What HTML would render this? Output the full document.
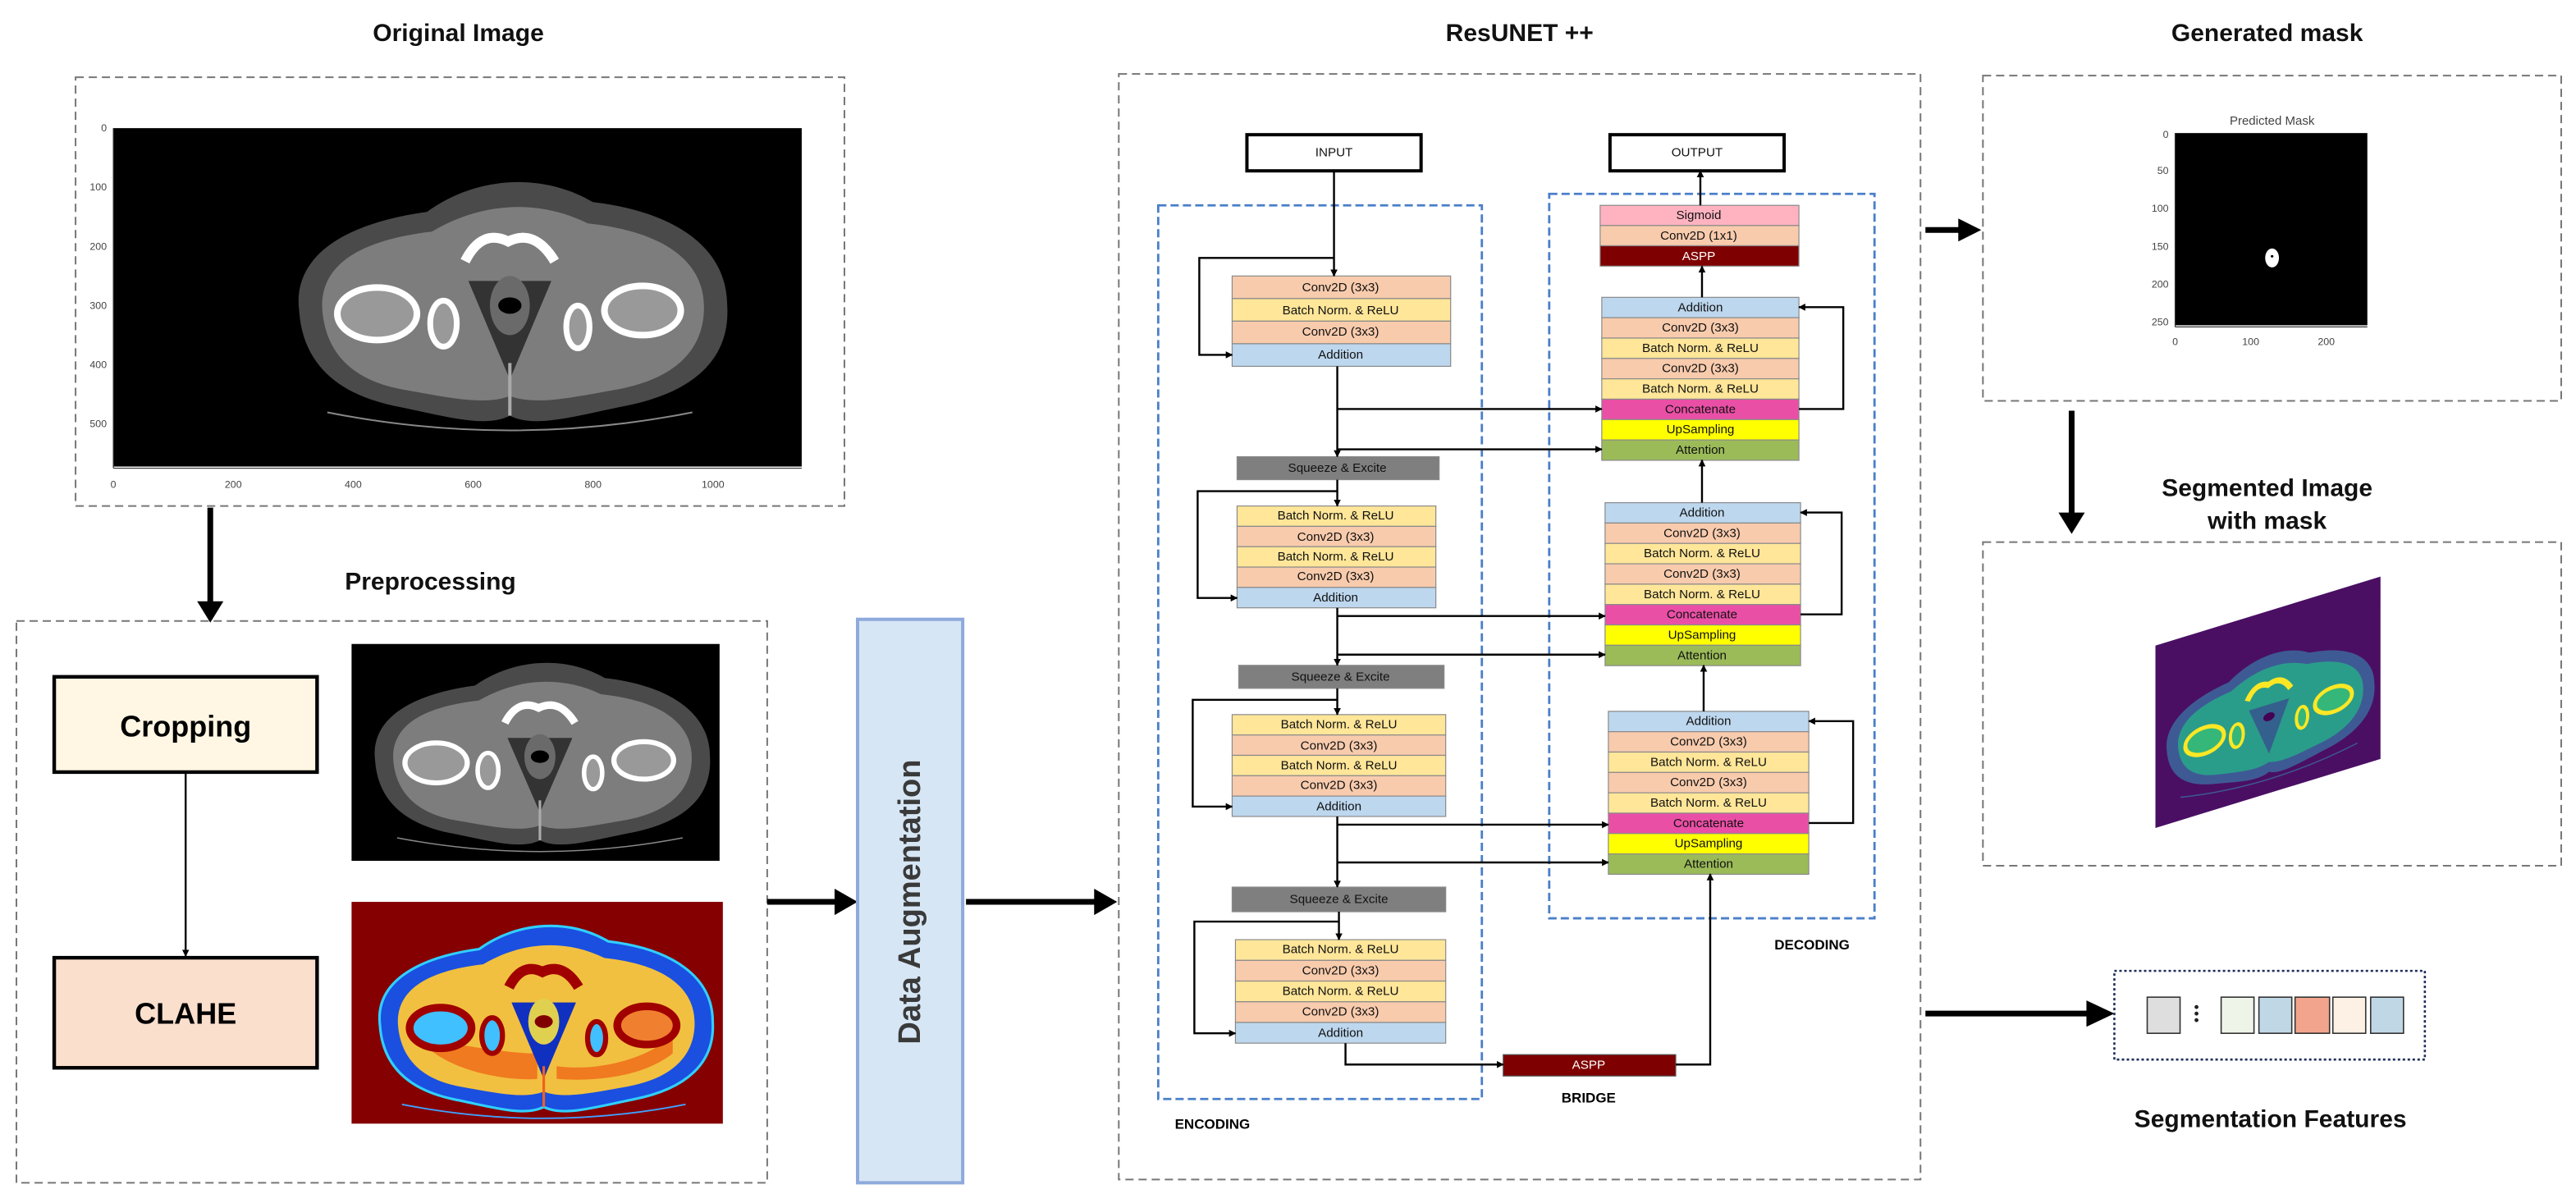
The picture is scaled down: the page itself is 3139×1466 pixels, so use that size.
<!DOCTYPE html>
<html><head><meta charset="utf-8"><style>
html,body{margin:0;padding:0;background:#fff;}
svg{display:block;}
text{font-family:"Liberation Sans",sans-serif;}
.t{font-size:7.6px;text-anchor:middle;dominant-baseline:central;fill:#111;}
.ax{font-size:6.2px;fill:#444;dominant-baseline:central;}
.ttl{font-size:15px;font-weight:bold;text-anchor:middle;fill:#111;}
.c{stroke:#000;stroke-width:1.2;fill:none;}
.th{stroke:#000;stroke-width:3.5;fill:none;}
.r{stroke:#8a8a8a;stroke-width:0.6;}
</style></head><body>
<svg width="3139" height="1466" viewBox="0 0 1568 732.3" xmlns="http://www.w3.org/2000/svg">
<defs>
<marker id="b" viewBox="0 0 10 10" refX="9" refY="5" markerWidth="3.6" markerHeight="3.6" orient="auto"><path d="M0,0L10,5L0,10z" fill="#000"/></marker>
</defs>
<rect width="1568" height="732.3" fill="#fff"/>

<text class="ttl" x="279" y="25">Original Image</text>
<text class="ttl" x="262" y="359">Preprocessing</text>
<text class="ttl" x="925" y="25">ResUNET ++</text>
<text class="ttl" x="1380" y="25">Generated mask</text>
<text class="ttl" x="1380" y="302">Segmented Image</text>
<text class="ttl" x="1380" y="322">with mask</text>
<text class="ttl" x="1382" y="686">Segmentation Features</text>

<rect x="46" y="47" width="468" height="261" fill="none" stroke="#777" stroke-width="1" stroke-dasharray="5,3"/>
<rect x="69" y="78" width="419" height="206" fill="#000"/>
<line x1="69" y1="78" x2="69" y2="285" stroke="#333" stroke-width="0.6"/>
<line x1="69" y1="285" x2="488" y2="285" stroke="#333" stroke-width="0.6"/>
<g class="ax" text-anchor="end">
<text x="65" y="78">0</text><text x="65" y="114">100</text><text x="65" y="150">200</text><text x="65" y="186">300</text><text x="65" y="222">400</text><text x="65" y="258">500</text>
</g>
<g class="ax" text-anchor="middle">
<text x="69" y="295">0</text><text x="142" y="295">200</text><text x="215" y="295">400</text><text x="288" y="295">600</text><text x="361" y="295">800</text><text x="434" y="295">1000</text>
</g>
<g transform="translate(174,101) scale(1.01,1.0)">
<path d="M8,88 C4,55 35,35 85,28 C115,6 155,4 185,22 C235,28 266,50 266,85 C268,118 245,138 205,146 C175,152 150,160 135,152 C120,160 95,152 65,146 C28,138 10,118 8,88Z" fill="#4a4a4a"/>
<path d="M22,88 C20,60 45,45 88,40 C118,22 152,20 182,35 C228,40 252,58 252,86 C252,114 232,130 200,136 C172,141 150,146 135,140 C120,146 98,141 70,136 C38,130 24,112 22,88Z" fill="#7d7d7d"/>
<path d="M110,70 L135,130 L160,70 Z" fill="#333"/>
<ellipse cx="55" cy="90" rx="24" ry="16" fill="#999" stroke="#fff" stroke-width="4"/>
<ellipse cx="95" cy="96" rx="8" ry="14" fill="#999" stroke="#fff" stroke-width="3.5"/>
<ellipse cx="215" cy="88" rx="23" ry="15" fill="#999" stroke="#fff" stroke-width="4"/>
<ellipse cx="176" cy="98" rx="7" ry="13" fill="#999" stroke="#fff" stroke-width="3.5"/>
<path d="M108,58 Q118,38 134,46 Q150,38 162,58" fill="none" stroke="#fff" stroke-width="6"/>
<ellipse cx="135" cy="85" rx="12" ry="18" fill="#6a6a6a"/>
<ellipse cx="135" cy="85" rx="7" ry="5" fill="#000"/>
<line x1="135" y1="120" x2="135" y2="152" stroke="#aaa" stroke-width="2"/>
<path d="M25,150 Q135,172 245,150" fill="none" stroke="#888" stroke-width="1"/>
</g>

<line class="th" x1="128" y1="309" x2="128" y2="368"/>
<path d="M120,366 L136,366 L128,379Z" fill="#000"/>

<rect x="10" y="378" width="457" height="342" fill="none" stroke="#777" stroke-width="1" stroke-dasharray="5,3"/>
<rect x="33" y="412" width="160" height="58" fill="#fff6e3" stroke="#000" stroke-width="2.2"/>
<text x="113" y="442" font-size="18" font-weight="bold" text-anchor="middle" dominant-baseline="central">Cropping</text>
<line class="c" x1="113" y1="470" x2="113" y2="582" marker-end="url(#b)"/>
<rect x="33" y="583" width="160" height="67" fill="#fbdfcd" stroke="#000" stroke-width="2.2"/>
<text x="113" y="617" font-size="18" font-weight="bold" text-anchor="middle" dominant-baseline="central">CLAHE</text>

<rect x="214" y="392" width="224" height="132" fill="#000"/>
<g transform="translate(222,396) scale(0.79,0.76)">
<path d="M8,88 C4,55 35,35 85,28 C115,6 155,4 185,22 C235,28 266,50 266,85 C268,118 245,138 205,146 C175,152 150,160 135,152 C120,160 95,152 65,146 C28,138 10,118 8,88Z" fill="#4a4a4a"/>
<path d="M22,88 C20,60 45,45 88,40 C118,22 152,20 182,35 C228,40 252,58 252,86 C252,114 232,130 200,136 C172,141 150,146 135,140 C120,146 98,141 70,136 C38,130 24,112 22,88Z" fill="#7d7d7d"/>
<path d="M110,70 L135,130 L160,70 Z" fill="#333"/>
<ellipse cx="55" cy="90" rx="24" ry="16" fill="#999" stroke="#fff" stroke-width="4"/>
<ellipse cx="95" cy="96" rx="8" ry="14" fill="#999" stroke="#fff" stroke-width="3.5"/>
<ellipse cx="215" cy="88" rx="23" ry="15" fill="#999" stroke="#fff" stroke-width="4"/>
<ellipse cx="176" cy="98" rx="7" ry="13" fill="#999" stroke="#fff" stroke-width="3.5"/>
<path d="M108,58 Q118,38 134,46 Q150,38 162,58" fill="none" stroke="#fff" stroke-width="6"/>
<ellipse cx="135" cy="85" rx="12" ry="18" fill="#6a6a6a"/>
<ellipse cx="135" cy="85" rx="7" ry="5" fill="#000"/>
<line x1="135" y1="120" x2="135" y2="152" stroke="#aaa" stroke-width="2"/>
<path d="M25,150 Q135,172 245,150" fill="none" stroke="#888" stroke-width="1"/>
</g>

<rect x="214" y="549" width="226" height="135" fill="#850000"/>
<g transform="translate(225,556) scale(0.785,0.775)">
<path d="M8,88 C4,55 35,35 85,28 C115,6 155,4 185,22 C235,28 266,50 266,85 C268,118 245,138 205,146 C175,152 150,160 135,152 C120,160 95,152 65,146 C28,138 10,118 8,88Z" fill="#1a4fe0" stroke="#30d0ff" stroke-width="2"/>
<path d="M22,88 C20,60 45,45 88,40 C118,22 152,20 182,35 C228,40 252,58 252,86 C252,114 232,130 200,136 C172,141 150,146 135,140 C120,146 98,141 70,136 C38,130 24,112 22,88Z" fill="#f2c040"/>
<path d="M40,100 C60,125 110,132 130,130 L130,110 C100,110 60,100 40,100Z" fill="#f07a20"/>
<path d="M145,120 C180,125 220,112 235,95 L235,110 C210,130 170,132 145,130Z" fill="#f07a20"/>
<path d="M110,70 L135,130 L160,70 Z" fill="#1030c0"/>
<ellipse cx="55" cy="90" rx="24" ry="16" fill="#40c0ff" stroke="#a00000" stroke-width="6"/>
<ellipse cx="95" cy="96" rx="8" ry="14" fill="#40c0ff" stroke="#a00000" stroke-width="4"/>
<ellipse cx="215" cy="88" rx="23" ry="15" fill="#f08030" stroke="#a00000" stroke-width="6"/>
<ellipse cx="176" cy="98" rx="7" ry="13" fill="#40c0ff" stroke="#a00000" stroke-width="4"/>
<path d="M108,58 Q118,38 134,46 Q150,38 162,58" fill="none" stroke="#a00000" stroke-width="8"/>
<ellipse cx="135" cy="85" rx="12" ry="18" fill="#e0d050"/>
<ellipse cx="135" cy="85" rx="7" ry="5" fill="#800000"/>
<line x1="135" y1="120" x2="135" y2="152" stroke="#f06020" stroke-width="2"/>
<path d="M25,150 Q135,172 245,150" fill="none" stroke="#40a0ff" stroke-width="1.2"/>
</g>

<line class="th" x1="467" y1="549" x2="510" y2="549"/>
<path d="M508,541 L522,549 L508,557Z" fill="#000"/>
<rect x="522" y="377" width="64" height="343" fill="#d7e6f5" stroke="#8eaadb" stroke-width="2"/>
<text x="554" y="549" font-size="19" font-weight="bold" fill="#3a3a3a" text-anchor="middle" dominant-baseline="central" transform="rotate(-90 554 549)">Data Augmentation</text>
<line class="th" x1="588" y1="549" x2="668" y2="549"/>
<path d="M666,541 L680,549 L666,557Z" fill="#000"/>

<rect x="681" y="45" width="488" height="673" fill="none" stroke="#777" stroke-width="1" stroke-dasharray="5,3"/>
<rect x="705" y="125" width="197" height="544" fill="none" stroke="#4a7fc9" stroke-width="1.4" stroke-dasharray="5,2.5"/>
<rect x="943" y="118" width="198" height="441" fill="none" stroke="#4a7fc9" stroke-width="1.4" stroke-dasharray="5,2.5"/>

<rect x="759" y="82" width="106" height="22" fill="#fff" stroke="#000" stroke-width="2"/>
<text class="t" x="812" y="93">INPUT</text>
<rect x="980" y="82" width="106" height="22" fill="#fff" stroke="#000" stroke-width="2"/>
<text class="t" x="1033" y="93">OUTPUT</text>

<g>
<rect class="r" x="750" y="168" width="133" height="13.75" fill="#f8cbad"/><text class="t" x="816" y="175">Conv2D (3x3)</text>
<rect class="r" x="750" y="181.75" width="133" height="13.75" fill="#ffe699"/><text class="t" x="816" y="189">Batch Norm. &amp;  ReLU</text>
<rect class="r" x="750" y="195.5" width="133" height="13.75" fill="#f8cbad"/><text class="t" x="816" y="202">Conv2D (3x3)</text>
<rect class="r" x="750" y="209.25" width="133" height="13.75" fill="#bdd7ee"/><text class="t" x="816" y="216">Addition</text>
</g>
<rect class="r" x="753" y="278" width="123" height="14" fill="#7f7f7f"/><text class="t" x="814" y="285">Squeeze &amp; Excite</text>
<g>
<rect class="r" x="753" y="308" width="121" height="12.4" fill="#ffe699"/><text class="t" x="813" y="314">Batch Norm. &amp;  ReLU</text>
<rect class="r" x="753" y="320.4" width="121" height="12.4" fill="#f8cbad"/><text class="t" x="813" y="327">Conv2D (3x3)</text>
<rect class="r" x="753" y="332.8" width="121" height="12.4" fill="#ffe699"/><text class="t" x="813" y="339">Batch Norm. &amp;  ReLU</text>
<rect class="r" x="753" y="345.2" width="121" height="12.4" fill="#f8cbad"/><text class="t" x="813" y="351">Conv2D (3x3)</text>
<rect class="r" x="753" y="357.6" width="121" height="12.4" fill="#bdd7ee"/><text class="t" x="813" y="364">Addition</text>
</g>
<rect class="r" x="754" y="405" width="125" height="14" fill="#7f7f7f"/><text class="t" x="816" y="412">Squeeze &amp; Excite</text>
<g>
<rect class="r" x="750" y="435" width="130" height="12.4" fill="#ffe699"/><text class="t" x="815" y="441">Batch Norm. &amp;  ReLU</text>
<rect class="r" x="750" y="447.4" width="130" height="12.4" fill="#f8cbad"/><text class="t" x="815" y="454">Conv2D (3x3)</text>
<rect class="r" x="750" y="459.8" width="130" height="12.4" fill="#ffe699"/><text class="t" x="815" y="466">Batch Norm. &amp;  ReLU</text>
<rect class="r" x="750" y="472.2" width="130" height="12.4" fill="#f8cbad"/><text class="t" x="815" y="478">Conv2D (3x3)</text>
<rect class="r" x="750" y="484.6" width="130" height="12.4" fill="#bdd7ee"/><text class="t" x="815" y="491">Addition</text>
</g>
<rect class="r" x="750" y="540" width="130" height="15" fill="#7f7f7f"/><text class="t" x="815" y="547.5">Squeeze &amp; Excite</text>
<g>
<rect class="r" x="752" y="572" width="128" height="12.6" fill="#ffe699"/><text class="t" x="816" y="578">Batch Norm. &amp;  ReLU</text>
<rect class="r" x="752" y="584.6" width="128" height="12.6" fill="#f8cbad"/><text class="t" x="816" y="591">Conv2D (3x3)</text>
<rect class="r" x="752" y="597.2" width="128" height="12.6" fill="#ffe699"/><text class="t" x="816" y="603.5">Batch Norm. &amp;  ReLU</text>
<rect class="r" x="752" y="609.8" width="128" height="12.6" fill="#f8cbad"/><text class="t" x="816" y="616">Conv2D (3x3)</text>
<rect class="r" x="752" y="622.4" width="128" height="12.6" fill="#bdd7ee"/><text class="t" x="816" y="629">Addition</text>
</g>
<rect x="915" y="642" width="105" height="13" fill="#7f0000" stroke="#555" stroke-width="0.6"/>
<text class="t" x="967" y="648.5" style="fill:#fff">ASPP</text>
<text x="967" y="671" font-size="8.5" font-weight="bold" text-anchor="middle">BRIDGE</text>
<text x="738" y="687" font-size="8.5" font-weight="bold" text-anchor="middle">ENCODING</text>
<text x="1103" y="578" font-size="8.5" font-weight="bold" text-anchor="middle">DECODING</text>

<rect class="r" x="974" y="125" width="121" height="12.3" fill="#ffb3c1"/><text class="t" x="1034" y="131">Sigmoid</text>
<rect class="r" x="974" y="137.3" width="121" height="12.3" fill="#f8cbad"/><text class="t" x="1034" y="143.5">Conv2D (1x1)</text>
<rect class="r" x="974" y="149.6" width="121" height="12.4" fill="#7f0000"/><text class="t" x="1034" y="156" style="fill:#fff">ASPP</text>

<g>
<rect class="r" x="975" y="181" width="120" height="12.4" fill="#bdd7ee"/><text class="t" x="1035" y="187.2">Addition</text>
<rect class="r" x="975" y="193.4" width="120" height="12.4" fill="#f8cbad"/><text class="t" x="1035" y="199.6">Conv2D (3x3)</text>
<rect class="r" x="975" y="205.8" width="120" height="12.4" fill="#ffe699"/><text class="t" x="1035" y="212">Batch Norm. &amp; ReLU</text>
<rect class="r" x="975" y="218.2" width="120" height="12.4" fill="#f8cbad"/><text class="t" x="1035" y="224.4">Conv2D (3x3)</text>
<rect class="r" x="975" y="230.6" width="120" height="12.4" fill="#ffe699"/><text class="t" x="1035" y="236.8">Batch Norm. &amp; ReLU</text>
<rect class="r" x="975" y="243" width="120" height="12.4" fill="#ea4fa6"/><text class="t" x="1035" y="249.2">Concatenate</text>
<rect class="r" x="975" y="255.4" width="120" height="12.4" fill="#ffff00"/><text class="t" x="1035" y="261.6">UpSampling</text>
<rect class="r" x="975" y="267.8" width="120" height="12.4" fill="#9bbb59"/><text class="t" x="1035" y="274">Attention</text>
</g>
<g>
<rect class="r" x="977" y="306" width="119" height="12.4" fill="#bdd7ee"/><text class="t" x="1036" y="312.2">Addition</text>
<rect class="r" x="977" y="318.4" width="119" height="12.4" fill="#f8cbad"/><text class="t" x="1036" y="324.6">Conv2D (3x3)</text>
<rect class="r" x="977" y="330.8" width="119" height="12.4" fill="#ffe699"/><text class="t" x="1036" y="337">Batch Norm. &amp; ReLU</text>
<rect class="r" x="977" y="343.2" width="119" height="12.4" fill="#f8cbad"/><text class="t" x="1036" y="349.4">Conv2D (3x3)</text>
<rect class="r" x="977" y="355.6" width="119" height="12.4" fill="#ffe699"/><text class="t" x="1036" y="361.8">Batch Norm. &amp; ReLU</text>
<rect class="r" x="977" y="368" width="119" height="12.4" fill="#ea4fa6"/><text class="t" x="1036" y="374.2">Concatenate</text>
<rect class="r" x="977" y="380.4" width="119" height="12.4" fill="#ffff00"/><text class="t" x="1036" y="386.6">UpSampling</text>
<rect class="r" x="977" y="392.8" width="119" height="12.4" fill="#9bbb59"/><text class="t" x="1036" y="399">Attention</text>
</g>
<g>
<rect class="r" x="979" y="433" width="122" height="12.4" fill="#bdd7ee"/><text class="t" x="1040" y="439.2">Addition</text>
<rect class="r" x="979" y="445.4" width="122" height="12.4" fill="#f8cbad"/><text class="t" x="1040" y="451.6">Conv2D (3x3)</text>
<rect class="r" x="979" y="457.8" width="122" height="12.4" fill="#ffe699"/><text class="t" x="1040" y="464">Batch Norm. &amp; ReLU</text>
<rect class="r" x="979" y="470.2" width="122" height="12.4" fill="#f8cbad"/><text class="t" x="1040" y="476.4">Conv2D (3x3)</text>
<rect class="r" x="979" y="482.6" width="122" height="12.4" fill="#ffe699"/><text class="t" x="1040" y="488.8">Batch Norm. &amp; ReLU</text>
<rect class="r" x="979" y="495" width="122" height="12.4" fill="#ea4fa6"/><text class="t" x="1040" y="501.2">Concatenate</text>
<rect class="r" x="979" y="507.4" width="122" height="12.4" fill="#ffff00"/><text class="t" x="1040" y="513.6">UpSampling</text>
<rect class="r" x="979" y="519.8" width="122" height="12.4" fill="#9bbb59"/><text class="t" x="1040" y="526">Attention</text>
</g>

<g>
<line class="c" x1="812" y1="104" x2="812" y2="168" marker-end="url(#b)"/>
<polyline class="c" points="812,157 730,157 730,216 750,216" marker-end="url(#b)"/>
<line class="c" x1="814" y1="223" x2="814" y2="278" marker-end="url(#b)"/>
<line class="c" x1="814" y1="249" x2="975" y2="249" marker-end="url(#b)"/>
<line class="c" x1="814" y1="273.5" x2="975" y2="273.5" marker-end="url(#b)"/>
<line class="c" x1="814" y1="292" x2="814" y2="308" marker-end="url(#b)"/>
<polyline class="c" points="814,299 729,299 729,364 753,364" marker-end="url(#b)"/>
<line class="c" x1="814" y1="370" x2="814" y2="405" marker-end="url(#b)"/>
<line class="c" x1="814" y1="375" x2="977" y2="375" marker-end="url(#b)"/>
<line class="c" x1="814" y1="398.5" x2="977" y2="398.5" marker-end="url(#b)"/>
<line class="c" x1="814" y1="419" x2="814" y2="435" marker-end="url(#b)"/>
<polyline class="c" points="814,426 726,426 726,491 750,491" marker-end="url(#b)"/>
<line class="c" x1="814" y1="497" x2="814" y2="540" marker-end="url(#b)"/>
<line class="c" x1="814" y1="502" x2="979" y2="502" marker-end="url(#b)"/>
<line class="c" x1="814" y1="525" x2="979" y2="525" marker-end="url(#b)"/>
<line class="c" x1="815" y1="555" x2="815" y2="572" marker-end="url(#b)"/>
<polyline class="c" points="815,561 727,561 727,629 752,629" marker-end="url(#b)"/>
<polyline class="c" points="819,635 819,648 915,648" marker-end="url(#b)"/>
<polyline class="c" points="1020,648 1041,648 1041,532" marker-end="url(#b)"/>
<line class="c" x1="1037" y1="433" x2="1037" y2="405" marker-end="url(#b)"/>
<line class="c" x1="1036" y1="306" x2="1036" y2="280" marker-end="url(#b)"/>
<line class="c" x1="1036" y1="181" x2="1036" y2="162" marker-end="url(#b)"/>
<line class="c" x1="1035" y1="125" x2="1035" y2="104" marker-end="url(#b)"/>
<polyline class="c" points="1095,249 1122,249 1122,187 1095,187" marker-end="url(#b)"/>
<polyline class="c" points="1096,374 1121,374 1121,312 1096,312" marker-end="url(#b)"/>
<polyline class="c" points="1101,501 1128,501 1128,439 1101,439" marker-end="url(#b)"/>
</g>

<line class="th" x1="1172" y1="140" x2="1194" y2="140"/>
<path d="M1192,133 L1206,140 L1192,147Z" fill="#000"/>
<line class="th" x1="1172" y1="617" x2="1272" y2="617"/>
<path d="M1270,609 L1287,617 L1270,625Z" fill="#000"/>
<line class="th" x1="1261" y1="250" x2="1261" y2="314"/>
<path d="M1253,312 L1269,312 L1261,325Z" fill="#000"/>

<rect x="1207" y="46" width="352" height="198" fill="none" stroke="#777" stroke-width="1" stroke-dasharray="5,3"/>
<text x="1383" y="76" font-size="7.5" fill="#444" text-anchor="middle">Predicted Mask</text>
<rect x="1324" y="81" width="117" height="117" fill="#000"/>
<line x1="1324" y1="81" x2="1324" y2="199" stroke="#333" stroke-width="0.6"/>
<line x1="1324" y1="199" x2="1441" y2="199" stroke="#333" stroke-width="0.6"/>
<g class="ax" text-anchor="end">
<text x="1320" y="82">0</text><text x="1320" y="104">50</text><text x="1320" y="127">100</text><text x="1320" y="150">150</text><text x="1320" y="173">200</text><text x="1320" y="196">250</text>
</g>
<g class="ax" text-anchor="middle">
<text x="1324" y="208">0</text><text x="1370" y="208">100</text><text x="1416" y="208">200</text>
</g>
<ellipse cx="1383" cy="157" rx="4.2" ry="5.8" fill="#fff"/>
<circle cx="1383" cy="156" r="0.8" fill="#000"/>

<rect x="1207" y="330" width="352" height="197" fill="none" stroke="#777" stroke-width="1" stroke-dasharray="5,3"/>
<g transform="matrix(1,-0.3066,0,1,1312,393)">
<rect x="0" y="0" width="137" height="111" fill="#4a0f63"/>
<g transform="translate(3,22) scale(0.49,0.5)">
<path d="M8,88 C4,55 35,35 85,28 C115,6 155,4 185,22 C235,28 266,50 266,85 C268,118 245,138 205,146 C175,152 150,160 135,152 C120,160 95,152 65,146 C28,138 10,118 8,88Z" fill="#3e5a95"/>
<path d="M22,88 C20,60 45,45 88,40 C118,22 152,20 182,35 C228,40 252,58 252,86 C252,114 232,130 200,136 C172,141 150,146 135,140 C120,146 98,141 70,136 C38,130 24,112 22,88Z" fill="#2a9d8a"/>
<path d="M110,70 L135,130 L160,70 Z" fill="#34608d"/>
<ellipse cx="55" cy="90" rx="24" ry="16" fill="#35b779" stroke="#fde725" stroke-width="5"/>
<ellipse cx="95" cy="96" rx="8" ry="14" fill="#35b779" stroke="#fde725" stroke-width="4"/>
<ellipse cx="215" cy="88" rx="23" ry="15" fill="#35b779" stroke="#fde725" stroke-width="5"/>
<ellipse cx="176" cy="98" rx="7" ry="13" fill="#35b779" stroke="#fde725" stroke-width="4"/>
<path d="M108,58 Q118,38 134,46 Q150,38 162,58" fill="none" stroke="#fde725" stroke-width="7"/>
<ellipse cx="135" cy="85" rx="7" ry="5" fill="#440154"/>
<path d="M25,150 Q135,172 245,150" fill="none" stroke="#3e5a95" stroke-width="1.5"/>
</g>
</g>

<rect x="1287" y="591" width="189" height="54" fill="none" stroke="#1f2d5a" stroke-width="1.3" stroke-dasharray="1.5,1.5"/>
<rect x="1307" y="607" width="20" height="22" fill="#dedede" stroke="#333" stroke-width="0.8"/>
<circle cx="1337" cy="613" r="1.2" fill="#222"/><circle cx="1337" cy="617" r="1.2" fill="#222"/><circle cx="1337" cy="621" r="1.2" fill="#222"/>
<rect x="1352" y="607" width="20" height="22" fill="#eef4e8" stroke="#333" stroke-width="0.8"/>
<rect x="1375" y="607" width="20" height="22" fill="#c0d8e6" stroke="#333" stroke-width="0.8"/>
<rect x="1397" y="607" width="21" height="22" fill="#f2a58c" stroke="#333" stroke-width="0.8"/>
<rect x="1420" y="607" width="20" height="22" fill="#fdf0e4" stroke="#333" stroke-width="0.8"/>
<rect x="1443" y="607" width="20" height="22" fill="#c0d8e6" stroke="#333" stroke-width="0.8"/>
</svg>
</body></html>
